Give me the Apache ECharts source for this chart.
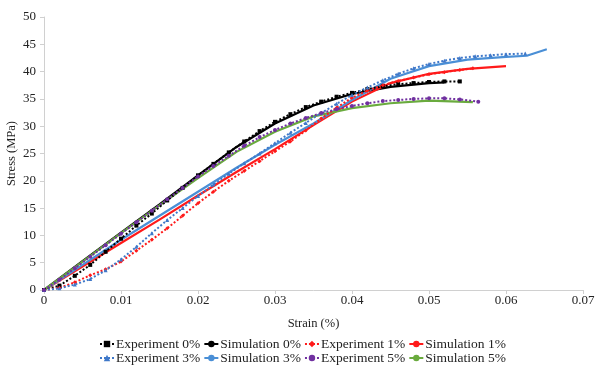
<!DOCTYPE html>
<html>
<head>
<meta charset="utf-8">
<script src="https://cdn.jsdelivr.net/npm/echarts@6/dist/echarts.min.js"></script>
<style>html,body{margin:0;padding:0;background:#fff}#c{width:595px;height:367px}</style>
</head>
<body>
<div id="c"></div>
<script>
var xTicks = [0, 0.01, 0.02, 0.03, 0.04, 0.05, 0.06, 0.07];
var yTicks = [0, 5, 10, 15, 20, 25, 30, 35, 40, 45, 50];

var exp0 = [[0,0],[0.002,0.8],[0.004,2.6],[0.006,4.6],[0.008,7.0],[0.01,9.4],[0.012,11.8],[0.014,14.0],[0.016,16.4],[0.018,18.7],[0.02,21.0],[0.022,23.1],[0.024,25.2],[0.026,27.2],[0.028,29.1],[0.03,30.8],[0.032,32.2],[0.034,33.5],[0.036,34.5],[0.038,35.4],[0.04,36.1],[0.042,36.8],[0.044,37.3],[0.046,37.7],[0.048,37.9],[0.05,38.1],[0.052,38.2],[0.054,38.2]];
var sim0 = [[0,0],[0.005,5.3],[0.01,10.5],[0.015,15.7],[0.02,21.0],[0.025,26.2],[0.03,30.5],[0.035,33.8],[0.04,35.9],[0.045,37.2],[0.05,37.9],[0.052,38.0]];
var exp1 = [[0,0],[0.002,0.4],[0.004,1.4],[0.006,2.7],[0.008,3.8],[0.01,5.2],[0.012,7.2],[0.014,9.2],[0.016,11.3],[0.018,13.6],[0.02,15.9],[0.022,18.0],[0.024,20.0],[0.026,21.8],[0.028,23.6],[0.03,25.4],[0.032,27.2],[0.034,29.2],[0.036,31.4],[0.038,33.4],[0.04,35.2],[0.042,36.5],[0.044,37.5],[0.046,38.3],[0.048,38.9],[0.05,39.5],[0.052,39.9],[0.054,40.3],[0.0557,40.6]];
var sim1 = [[0,0],[0.005,4.3],[0.01,8.6],[0.015,12.9],[0.02,17.3],[0.025,21.6],[0.03,25.8],[0.035,30.2],[0.04,34.5],[0.045,37.9],[0.05,39.6],[0.055,40.5],[0.06,41.0]];
var exp3 = [[0,0],[0.002,0.3],[0.004,1.0],[0.006,2.0],[0.008,3.6],[0.01,5.6],[0.012,7.9],[0.014,10.4],[0.016,12.8],[0.018,15.0],[0.02,17.2],[0.022,19.3],[0.024,21.3],[0.026,23.2],[0.028,25.0],[0.03,26.9],[0.032,28.8],[0.034,30.6],[0.036,32.4],[0.038,34.1],[0.04,35.7],[0.042,37.1],[0.044,38.4],[0.046,39.6],[0.048,40.6],[0.05,41.4],[0.052,42.0],[0.054,42.5],[0.056,42.8],[0.058,43.0],[0.06,43.2],[0.0625,43.3]];
var sim3 = [[0,0],[0.005,4.6],[0.01,9.2],[0.015,13.6],[0.02,18.0],[0.025,22.4],[0.03,26.6],[0.035,30.5],[0.04,34.8],[0.045,38.7],[0.05,41.0],[0.055,42.2],[0.06,42.7],[0.0627,42.9],[0.0653,44.1]];
var exp5 = [[0,0],[0.002,1.9],[0.004,4.0],[0.006,6.1],[0.008,8.2],[0.01,10.3],[0.012,12.4],[0.014,14.5],[0.016,16.6],[0.018,18.7],[0.02,20.8],[0.022,22.7],[0.024,24.6],[0.026,26.4],[0.028,28.0],[0.03,29.3],[0.032,30.5],[0.034,31.5],[0.036,32.4],[0.038,33.1],[0.04,33.7],[0.042,34.2],[0.044,34.6],[0.046,34.8],[0.048,35.0],[0.05,35.1],[0.052,35.1],[0.054,34.9],[0.0564,34.5]];
var sim5 = [[0,0],[0.005,5.2],[0.01,10.4],[0.015,15.5],[0.02,20.5],[0.025,25.3],[0.03,29.0],[0.035,31.8],[0.04,33.3],[0.045,34.2],[0.05,34.7],[0.0557,34.4]];

var names = ['Experiment 0%','Simulation 0%','Experiment 1%','Simulation 1%','Experiment 3%','Simulation 3%','Experiment 5%','Simulation 5%'];
var colors = {k:'#000000', r:'#ff1a1a', b:'#4a8fd6', b2:'#3f78c9', g:'#6aab3e', p:'#7030a0'};
var font = '"Liberation Serif","Times New Roman",serif';

function expS(name, data, color, symbol){
  return {name:name, type:'line', data:data, symbol:symbol, symbolSize:4, showSymbol:true,
    itemStyle:{color:color}, lineStyle:{color:color, width:2, type:'dotted'}, z:3};
}
function simS(name, data, color){
  return {name:name, type:'line', data:data, symbol:'circle', symbolSize:3, showSymbol:false,
    itemStyle:{color:color}, lineStyle:{color:color, width:2.2}, z:2};
}

var legendText = {fontSize:13.5, fontFamily:font, color:'#222', padding:[0,0,0,-3]};
var chart = echarts.init(document.getElementById('c'));
chart.setOption({
  animation:false,
  textStyle:{fontFamily:font},
  grid:{left:44, right:12, top:17, bottom:77, containLabel:false, outerBoundsMode:'none'},
  xAxis:{type:'value', min:0, max:0.07, interval:0.01,
    name:'Strain (%)', nameLocation:'middle', nameGap:27, nameMoveOverlap:false,
    nameTextStyle:{color:'#222', fontSize:12.5, fontFamily:font},
    axisLine:{lineStyle:{color:'#d0d0d0'}}, axisTick:{show:true, length:4, lineStyle:{color:'#d0d0d0'}},
    axisLabel:{color:'#222', fontSize:13, fontFamily:font, margin:4,
      formatter:function(v){ for(var i=0;i<xTicks.length;i++){ if(Math.abs(xTicks[i]-v)<1e-9) return String(xTicks[i]); } return ''; }},
    splitLine:{show:false}},
  yAxis:{type:'value', min:0, max:50, interval:5,
    name:'Stress (MPa)', nameLocation:'middle', nameGap:26, nameMoveOverlap:false,
    nameTextStyle:{color:'#222', fontSize:12.5, fontFamily:font},
    axisLine:{show:true, lineStyle:{color:'#d0d0d0'}}, axisTick:{show:true, length:4, lineStyle:{color:'#d0d0d0'}},
    axisLabel:{color:'#222', fontSize:13, fontFamily:font, margin:8,
      formatter:function(v){ return yTicks.indexOf(v)>=0 ? String(v) : ''; }},
    splitLine:{show:false}},
  legend:[
    {data:names.slice(0,4), left:99, top:337, padding:0, itemGap:3, itemWidth:14, itemHeight:8, textStyle:legendText},
    {data:names.slice(4,8), left:99, top:351, padding:0, itemGap:3, itemWidth:14, itemHeight:8, textStyle:legendText}
  ],
  series:[
    expS(names[0], exp0, colors.k, 'rect'),
    simS(names[1], sim0, colors.k),
    expS(names[2], exp1, colors.r, 'diamond'),
    simS(names[3], sim1, colors.r),
    expS(names[4], exp3, colors.b2, 'triangle'),
    simS(names[5], sim3, colors.b),
    expS(names[6], exp5, colors.p, 'circle'),
    simS(names[7], sim5, colors.g)
  ]
});
</script>
</body>
</html>
